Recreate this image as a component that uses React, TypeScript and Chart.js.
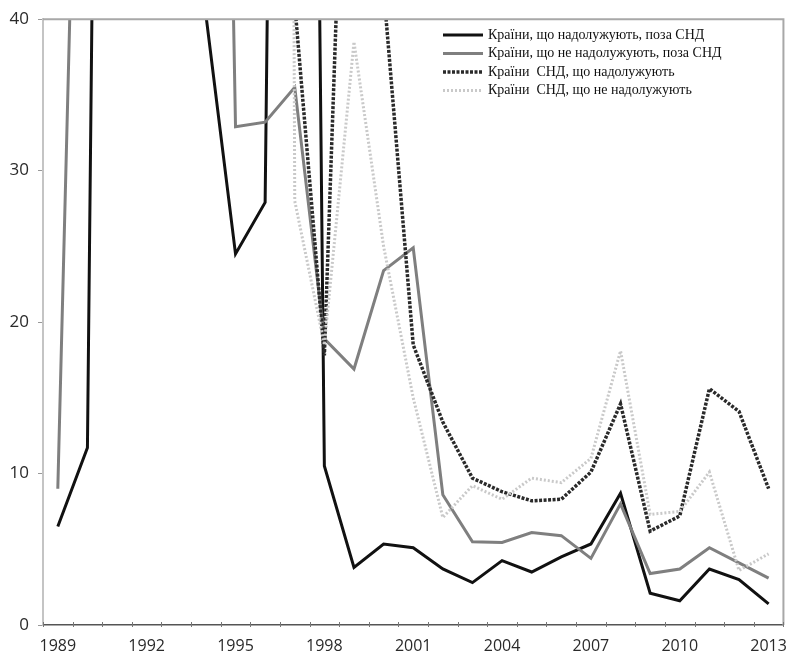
import React, { useEffect, useRef } from "react";
import { Chart, registerables } from "chart.js";

Chart.register(...registerables);

const years = [
  "1989", "1990", "1991", "1992", "1993", "1994", "1995", "1996", "1997", "1998",
  "1999", "2000", "2001", "2002", "2003", "2004", "2005", "2006", "2007", "2008",
  "2009", "2010", "2011", "2012", "2013",
];

const seriesNames = [
  "Країни, що надолужують, поза СНД",
  "Країни, що не надолужують, поза СНД",
  "Країни  СНД, що надолужують",
  "Країни  СНД, що не надолужують",
];

// Values above 40 are off the visible scale (clipped in the original)
const catchUpNonCIS = [6.5, 11.7, 200, 300, 300, 40.3, 24.5, 27.9, 200, 10.5, 3.8, 5.35, 5.1, 3.7, 2.8, 4.25, 3.5, 4.5, 5.35, 8.7, 2.1, 1.6, 3.7, 3.0, 1.4];
const nonCatchUpNonCIS = [9.0, 86, 200, 200, 200, 140, 32.9, 33.2, 35.5, 18.9, 16.9, 23.4, 24.9, 8.6, 5.5, 5.45, 6.1, 5.9, 4.4, 8.0, 3.4, 3.7, 5.1, 4.1, 3.1];
const catchUpCIS = [500, 500, 500, 500, 500, 500, 500, 500, 41, 17.8, 74, 42, 18.5, 13.4, 9.7, 8.8, 8.2, 8.3, 10.1, 14.6, 6.2, 7.2, 15.6, 14.1, 9.0];
const nonCatchUpCIS = [500, 500, 500, 500, 500, 500, 500, 500, 28, 18.5, 38.5, 25, 15, 7.1, 9.2, 8.3, 9.7, 9.4, 11.0, 18.1, 7.3, 7.5, 10.1, 3.6, 4.7];

const yTicks = [0, 10, 20, 30, 40];
const xTickEvery = 3;

export default function App() {
  const ref = useRef<HTMLCanvasElement | null>(null);

  useEffect(() => {
    document.body.style.margin = "0";
    const canvas = ref.current;
    if (!canvas) return;

    const framePlugin = {
      id: "frame",
      afterDatasetsDraw(chart: any) {
        const { ctx, chartArea } = chart;
        const { left, right, top, bottom } = chartArea;
        ctx.save();
        // top & right frame
        ctx.strokeStyle = "#a8a8a8";
        ctx.lineWidth = 2;
        ctx.beginPath();
        ctx.moveTo(left, top);
        ctx.lineTo(right, top);
        ctx.lineTo(right, bottom);
        ctx.stroke();
        // x tick marks
        const n = years.length;
        const w = (right - left) / n;
        ctx.strokeStyle = "#777";
        ctx.lineWidth = 1;
        for (let i = 0; i <= n; i++) {
          const x = Math.round(left + i * w) + 0.5;
          ctx.beginPath();
          ctx.moveTo(x, bottom - 3);
          ctx.lineTo(x, bottom + 2);
          ctx.stroke();
        }
        // legend, in the original order
        const ds = chart.data.datasets;
        const x0 = 443;
        const lineW = 40;
        let y = 35;
        ctx.font = '14px "Liberation Serif", "Times New Roman", serif';
        ctx.textBaseline = "middle";
        ctx.textAlign = "left";
        for (const name of seriesNames) {
          const d = ds.find((s: any) => s.label === name);
          if (!d) continue;
          ctx.strokeStyle = d.borderColor;
          ctx.lineWidth = d.borderWidth;
          ctx.setLineDash(d.borderDash || []);
          ctx.beginPath();
          ctx.moveTo(x0, y);
          ctx.lineTo(x0 + lineW, y);
          ctx.stroke();
          ctx.setLineDash([]);
          ctx.fillStyle = "#111";
          ctx.fillText(d.label, x0 + lineW + 5, y);
          y += 18.5;
        }
        ctx.restore();
      },
    };

    const chart = new Chart(canvas, {
      type: "line",
      data: {
        labels: years,
        datasets: [
          {
            label: seriesNames[3],
            data: nonCatchUpCIS,
            borderColor: "#c9c9c9",
            borderWidth: 3,
            borderDash: [2, 2],
            pointRadius: 0,
            fill: false,
            tension: 0,
          },
          {
            label: seriesNames[2],
            data: catchUpCIS,
            borderColor: "#2a2a2a",
            borderWidth: 3.5,
            borderDash: [3, 1.5],
            pointRadius: 0,
            fill: false,
            tension: 0,
          },
          {
            label: seriesNames[1],
            data: nonCatchUpNonCIS,
            borderColor: "#7f7f7f",
            borderWidth: 3,
            pointRadius: 0,
            fill: false,
            tension: 0,
          },
          {
            label: seriesNames[0],
            data: catchUpNonCIS,
            borderColor: "#111111",
            borderWidth: 3,
            pointRadius: 0,
            fill: false,
            tension: 0,
          },
        ],
      },
      options: {
        responsive: false,
        animation: false,
        events: [],
        layout: { padding: { top: 14, right: 4, left: 0, bottom: 0 } },
        plugins: {
          legend: { display: false },
          tooltip: { enabled: false },
        },
        scales: {
          x: {
            type: "category",
            offset: true,
            grid: { display: false, offset: true },
            border: { display: true, color: "#555", width: 1.5 },
            afterFit(scale: any) {
              scale.height = 31;
            },
            ticks: {
              autoSkip: false,
              maxRotation: 0,
              padding: 4,
              color: "#2a2a2a",
              font: { family: '"Open Sans", sans-serif', size: 16 },
              callback: (_v: any, i: number) => (i % xTickEvery === 0 ? years[i] : ""),
            },
          },
          y: {
            min: 0,
            max: 40,
            afterFit(scale: any) {
              scale.width = 43;
            },
            afterBuildTicks(scale: any) {
              scale.ticks = yTicks.map((v) => ({ value: v }));
            },
            grid: { drawOnChartArea: false, drawTicks: true, tickLength: 5, color: "#999" },
            border: { display: true, color: "#c4c4c4", width: 2 },
            ticks: {
              padding: 9,
              color: "#2a2a2a",
              font: { family: '"Open Sans", sans-serif', size: 17 },
            },
          },
        },
      },
      plugins: [framePlugin],
    } as any);

    return () => chart.destroy();
  }, []);

  return (
    <div style={{ width: 791, height: 656 }}>
      <canvas ref={ref} width={791} height={656} style={{ display: "block" }} />
    </div>
  );
}
